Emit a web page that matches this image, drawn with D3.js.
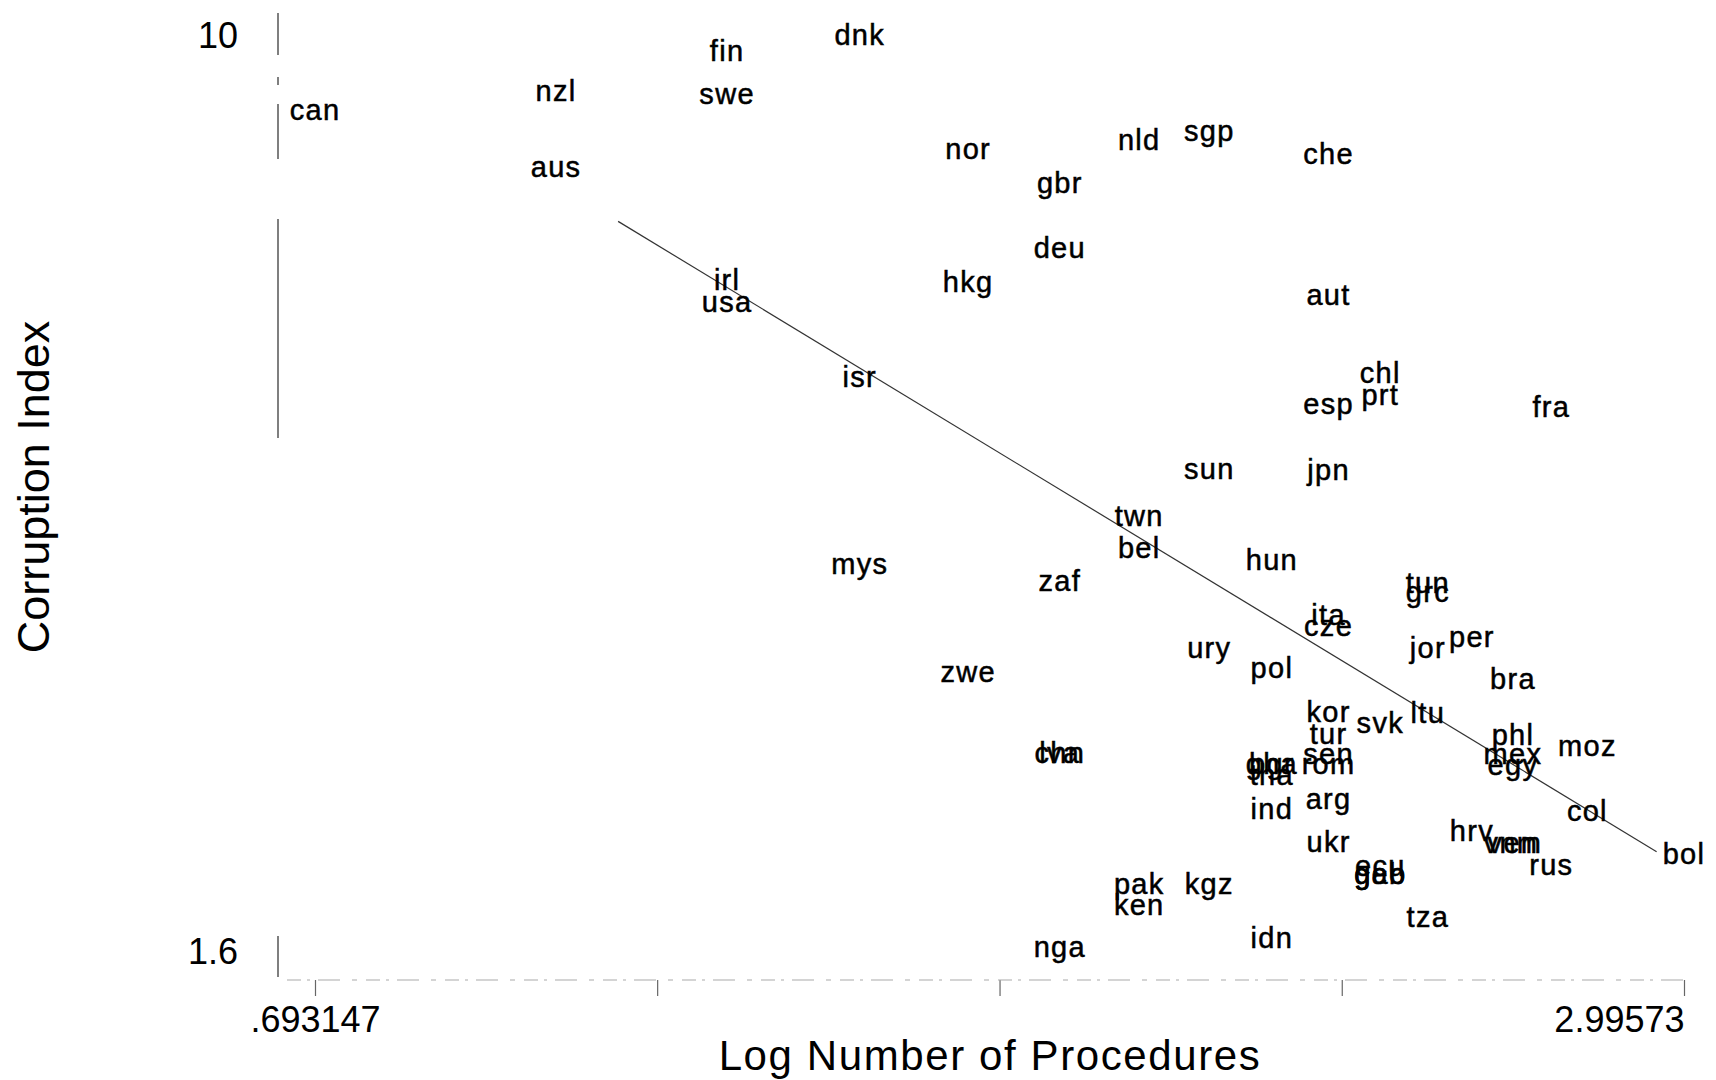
<!DOCTYPE html>
<html>
<head>
<meta charset="utf-8">
<script src="https://cdn.jsdelivr.net/npm/d3@7"></script>
<style>
  html, body { margin: 0; padding: 0; background: #fff; }
  svg { display: block; font-family: "Liberation Sans", Arial, sans-serif; }
</style>
</head>
<body>
<div id="chart"></div>
<script>
// country codes, number of procedures and corruption index
const countries = ["dnk","fin","swe","nzl","can","aus","nor","nld","sgp","che","gbr","deu","hkg","irl","usa","aut",
  "isr","chl","prt","esp","fra","jpn","sun","twn","bel","hun","mys","zaf","tun","grc","ita","cze","ury","jor","per",
  "pol","zwe","bra","ltu","kor","svk","tur","phl","moz","mex","egy","sen","rom","chn","lva","bgr","gha","tha","ind",
  "arg","col","ukr","hrv","ven","vnm","bol","rus","ecu","geo","gab","pak","kgz","ken","tza","idn","nga"];
const procedures = [5,4,4,3,2,3,6,8,9,11,7,7,6,4,4,11,
  5,12,12,11,16,11,9,8,8,10,5,7,13,13,11,11,9,13,14,
  10,6,15,13,11,12,11,15,17,15,15,11,11,7,7,10,10,10,10,
  11,17,11,14,15,15,20,16,12,12,12,8,9,8,13,10,7];
const corruption = [10.0,9.85,9.46,9.48,9.31,8.79,8.95,9.03,9.12,8.91,8.64,8.04,7.73,7.75,7.55,7.61,
  6.86,6.90,6.70,6.61,6.59,6.01,6.02,5.59,5.29,5.18,5.15,4.99,4.97,4.89,4.68,4.58,4.38,4.38,4.48,
  4.19,4.16,4.09,3.78,3.79,3.69,3.59,3.58,3.48,3.40,3.30,3.40,3.31,3.41,3.41,3.31,3.31,3.21,2.90,
  2.99,2.88,2.60,2.70,2.59,2.59,2.49,2.39,2.38,2.30,2.30,2.21,2.21,2.02,1.91,1.72,1.63];

// fitted line end points
const fitProcedures = [3.33, 19.1];
const fitCorruption = [8.30, 2.52];

const xTicks = [2, 3.556, 6.325, 11.247, 20];
const xTickLabels = [".693147", "", "", "", "2.99573"];
const yTicks = [10, 1.6];
const yTickLabels = ["10", "1.6"];

const width = 1716, height = 1080;

const svg = d3.select("#chart").append("svg")
  .attr("width", width)
  .attr("height", height);

svg.append("rect").attr("width", width).attr("height", height).attr("fill", "#fff");

const x = d3.scaleLog().domain([2, 20]).range([315, 1684]);
const y = d3.scaleLinear().domain([1.6, 10]).range([952, 36]);

// y axis (scanned look, broken line)
const yAxis = svg.append("g")
  .attr("transform", "translate(278,0)")
  .call(d3.axisLeft(y).tickValues(yTicks).tickSize(0).tickPadding(40)
    .tickFormat((d, i) => yTickLabels[i]));
yAxis.select(".domain").remove();
yAxis.selectAll("text")
  .style("font-size", "36px")
  .style("font-family", "Liberation Sans, Arial, sans-serif")
  .attr("fill", "#000");

yAxis.append("line")
  .attr("x1", 0).attr("x2", 0)
  .attr("y1", 13).attr("y2", 977)
  .attr("stroke", "#555")
  .attr("stroke-width", 1.5)
  .attr("stroke-dasharray", "42,22,8,19,55,60,219,498,41");

// x axis
const xAxis = svg.append("g")
  .attr("transform", "translate(0,980)")
  .call(d3.axisBottom(x).tickValues(xTicks).tickSize(16).tickPadding(10)
    .tickFormat((d, i) => xTickLabels[i]));
xAxis.select(".domain").remove();
xAxis.selectAll(".tick line").attr("stroke", "#666").attr("stroke-width", 1.2);
xAxis.selectAll("text")
  .style("font-size", "36px")
  .style("font-family", "Liberation Sans, Arial, sans-serif")
  .attr("fill", "#000")
  .attr("text-anchor", (d, i) => i === xTicks.length - 1 ? "end" : "middle");

xAxis.append("line")
  .attr("x1", 287).attr("x2", 1684)
  .attr("y1", 0).attr("y2", 0)
  .attr("stroke", "#aaa")
  .attr("stroke-width", 1.2)
  .attr("stroke-dasharray", "14,6,3,8,22,12,5,9");

// fitted line
const line = d3.line()
  .x(d => x(d[0]))
  .y(d => y(d[1]));
svg.append("path")
  .datum(fitProcedures.map((p, i) => [p, fitCorruption[i]]))
  .attr("d", line)
  .attr("fill", "none")
  .attr("stroke", "#333")
  .attr("stroke-width", 1.2);

// country labels used as markers
const points = countries.map((c, i) => ({ name: c, proc: procedures[i], corr: corruption[i] }));
svg.append("g")
  .selectAll("text")
  .data(points)
  .enter()
  .append("text")
  .attr("x", d => x(d.proc))
  .attr("y", d => y(d.corr))
  .attr("dy", "0.3em")
  .attr("text-anchor", "middle")
  .style("font-size", "29px")
  .style("letter-spacing", "1.3px")
  .attr("fill", "#000")
  .attr("stroke", "#000")
  .attr("stroke-width", 0.5)
  .text(d => d.name);

// axis titles
svg.append("text")
  .attr("transform", "translate(33,487) rotate(-90)")
  .attr("dy", "0.35em")
  .attr("text-anchor", "middle")
  .style("font-size", "45px")
  .attr("fill", "#000")
  .text("Corruption Index");

svg.append("text")
  .attr("x", 990)
  .attr("y", 1055)
  .attr("dy", "0.35em")
  .attr("text-anchor", "middle")
  .style("font-size", "42px")
  .style("letter-spacing", "1.6px")
  .attr("fill", "#000")
  .text("Log Number of Procedures");
</script>
</body>
</html>
